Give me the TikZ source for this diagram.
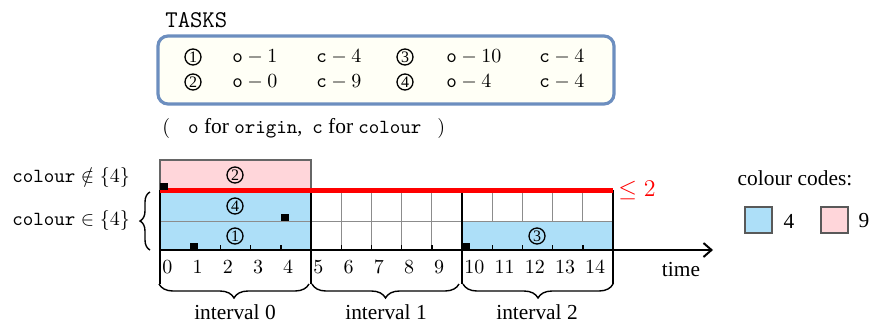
\documentclass[tikz,border=0pt]{standalone}
\usepackage{fontspec}
\setmainfont{Liberation Serif}
\usetikzlibrary{decorations.pathreplacing,arrows.meta}
\definecolor{tblue}{RGB}{173,223,248}
\definecolor{tpink}{RGB}{255,214,218}
\definecolor{boxblue}{RGB}{108,142,191}
\definecolor{boxfill}{RGB}{255,255,246}
\definecolor{gridgray}{RGB}{140,140,140}
\newcommand\rmtext{\fontsize{10.7pt}{12.5pt}\selectfont}
\begin{document}
\begin{tikzpicture}[x=0.5pt,y=-0.5pt,
  cnum/.style={circle,draw,line width=0.65pt,inner sep=0pt,minimum size=8pt,font=\footnotesize},
  cell/.style={anchor=west,inner sep=0pt},
  gridl/.style={gridgray,line width=0.5pt},
  thickl/.style={black,line width=1pt},
  origin/.style={fill=black},
  tlab/.style={anchor=north west,inner sep=1pt},
  rmlab/.style={font=\rmtext},
  ibrace/.style={decorate,decoration={brace,mirror,amplitude=7pt},line width=0.7pt},
  legsq/.style={draw=black!65,line width=0.8pt}]
\useasboundingbox (0,0) rectangle (870,322);

% ---------- task table ----------
\node[anchor=west,inner sep=0pt,font=\large\ttfamily] (tasks) at (165,20) {TASKS};
\draw[boxblue,line width=1.6pt,fill=boxfill,rounded corners=5pt] (158,36) rectangle (614,104);
\node[cnum] (c1) at (193,57) {1};
\node[cnum] (c2) at (193,82) {2};
\node[cnum] (c3) at (405,57) {3};
\node[cnum] (c4) at (405,82) {4};
\node[cell] (o1) at (232,57) {$\texttt{o}-1$};
\node[cell] (k1) at (316,57) {$\texttt{c}-4$};
\node[cell] (o3) at (446,57) {$\texttt{o}-10$};
\node[cell] (k3) at (539,57) {$\texttt{c}-4$};
\node[cell] (o2) at (232,82) {$\texttt{o}-0$};
\node[cell] (k2) at (316,82) {$\texttt{c}-9$};
\node[cell] (o4) at (446,82) {$\texttt{o}-4$};
\node[cell] (k4) at (539,82) {$\texttt{c}-4$};
\node[anchor=west,inner sep=0pt] (legendo) at (162,128)
  {$($\hspace{9pt}\texttt{o}{\rmtext\ for }\texttt{origin},\ \ \texttt{c}{\rmtext\ for }\texttt{colour}\hspace{8pt}$)$};

% ---------- timeline fills ----------
\fill[tblue] (160,190) rectangle (311,250);
\fill[tblue] (462,221) rectangle (613,250);
\draw[fill=tpink,draw=black!60,line width=0.6pt] (160,160) rectangle (311,190);

% grid
\draw[gridl] (160,221) -- (613,221);
\foreach \t in {6,7,8,9} \draw[gridl] ({160+30.2*\t},190) -- ({160+30.2*\t},250);
\foreach \t in {11,12,13,14} \draw[gridl] ({160+30.2*\t},190) -- ({160+30.2*\t},221);

% ticks
\foreach \t in {1,2,3,4,6,7,8,9,11,12,13,14} \draw[black,line width=0.7pt] ({160+30.2*\t},250) -- ({160+30.2*\t},245);

% interval boundaries
\foreach \t in {0,5,10,15} \draw[thickl] ({160+30.2*\t},190) -- ({160+30.2*\t},284);

% axis
\draw[black,line width=1pt,-{Straight Barb[length=4pt,width=7pt]}] (160,250) -- (713,250);
\node[rmlab] (time) at (681,270) {time};

% capacity line
\draw[red,line width=2.5pt] (160,190) -- (613,190);
\node[red,font=\large] (cap) at (637,190) {$\leq 2$};

% origin markers
\fill[origin] (160,190) rectangle (168,183);
\fill[origin] (281,221) rectangle (289,214);
\fill[origin] (190,250) rectangle (198,243);
\fill[origin] (462,250) rectangle (470,243);

% task labels in the timeline
\node[cnum] (t2) at (235,175) {2};
\node[cnum] (t4) at (235,206) {4};
\node[cnum] (t1) at (235,236) {1};
\node[cnum] (t3) at (537,236) {3};

% time labels
\foreach \t in {0,...,14} \node[tlab] (n\t) at ({160+30.2*\t},258) {$\t$};

% interval braces
\draw[ibrace] (159,284) -- (309,284);
\draw[ibrace] (312,284) -- (459,284);
\draw[ibrace] (463,284) -- (613,284);
\node[rmlab] (i0) at (235,312) {interval 0};
\node[rmlab] (i1) at (386,312) {interval 1};
\node[rmlab] (i2) at (537,312) {interval 2};

% left labels
\node[anchor=west,inner sep=0pt] (notin) at (12,177) {$\texttt{colour}\notin\{4\}$};
\node[anchor=west,inner sep=0pt] (isin) at (12,220) {$\texttt{colour}\in\{4\}$};
\draw[decorate,decoration={brace,amplitude=5pt},line width=0.7pt] (150,250) -- (150,192);

% colour legend
\node[rmlab] (cc) at (795,178) {colour codes:};
\draw[legsq,fill=tblue] (745,207) rectangle (772,233);
\node[rmlab] (l4) at (789,221) {4};
\draw[legsq,fill=tpink] (821,207) rectangle (848,233);
\node[rmlab] (l9) at (864,221) {9};
\end{tikzpicture}
\end{document}
